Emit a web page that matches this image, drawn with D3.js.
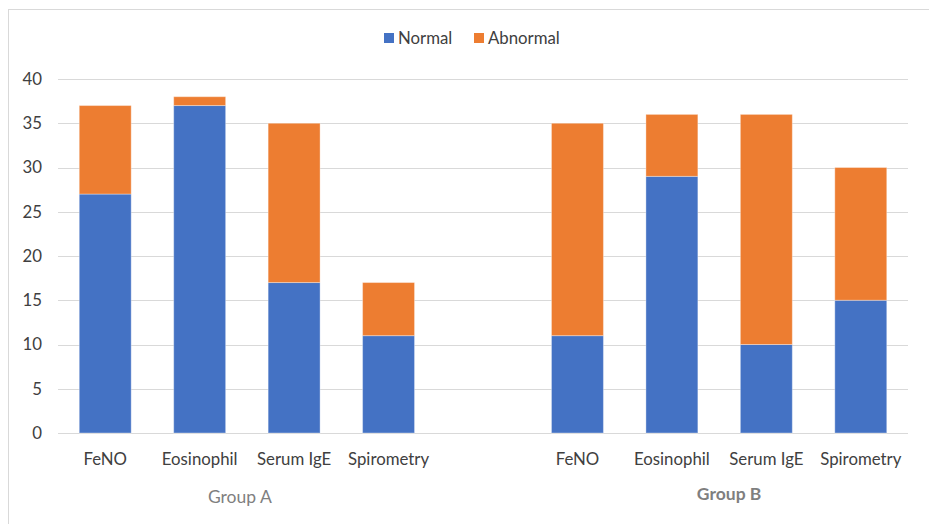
<!DOCTYPE html>
<html>
  <head>
    <meta charset="utf-8">
    <title>Normal vs Abnormal by Group</title>
    <script src="https://d3js.org/d3.v7.min.js"></script>
    <style>
      body { margin: 0; background: #fff; }
      .chart { font-family: Lato, "Open Sans", sans-serif; }
      .grid line { stroke: #d9d9d9; stroke-width: 1; shape-rendering: crispEdges; }
      .tick-label { fill: #404040; font-size: 16.8px; }
      .group-label { fill: #7f7f7f; font-size: 17.5px; }
    </style>
  </head>
  <body>
    <svg class="chart" width="929" height="524"></svg>
    <script>
      // Chart data
      const groups = ["Group A", "Group B"];
      const tests = ["FeNO", "Eosinophil", "Serum IgE", "Spirometry"];
      const normalA = [27, 37, 17, 11];
      const abnormalA = [10, 1, 18, 6];
      const normalB = [11, 29, 10, 15];
      const abnormalB = [24, 7, 26, 15];
      const seriesNames = ["Normal", "Abnormal"];
      const colors = ["#4472C4", "#ED7D31"];
      const yTicks = [0, 5, 10, 15, 20, 25, 30, 35, 40];

      // Build rows: 4 categories per group with an empty slot between groups
      const rows = [];
      tests.forEach((t, i) => rows.push({ key: "A" + i, group: groups[0], test: t, Normal: normalA[i], Abnormal: abnormalA[i] }));
      rows.push({ key: "gap", group: null, test: "", Normal: 0, Abnormal: 0 });
      tests.forEach((t, i) => rows.push({ key: "B" + i, group: groups[1], test: t, Normal: normalB[i], Abnormal: abnormalB[i] }));

      const svg = d3.select(".chart");
      const W = 929, H = 524;

      // outer frame (left and top only, as in the picture)
      svg.append("line").attr("x1", 8.5).attr("x2", 8.5).attr("y1", 9).attr("y2", H).attr("stroke", "#d9d9d9");
      svg.append("line").attr("x1", 8).attr("x2", W).attr("y1", 9.5).attr("y2", 9.5).attr("stroke", "#d9d9d9");

      const plot = { left: 58, right: 908, top: 79, bottom: 433 };

      const x = d3.scaleBand()
        .domain(rows.map(d => d.key))
        .range([plot.left, plot.right])
        .paddingInner(0.45)
        .paddingOuter(0.225);

      const y = d3.scaleLinear()
        .domain([0, 40])
        .range([plot.bottom, plot.top]);

      // gridlines
      svg.append("g").attr("class", "grid")
        .selectAll("line")
        .data(yTicks)
        .enter().append("line")
        .attr("x1", plot.left).attr("x2", plot.right)
        .attr("y1", d => Math.round(y(d)) + 0.5).attr("y2", d => Math.round(y(d)) + 0.5);

      // y labels
      svg.append("g")
        .selectAll("text")
        .data(yTicks)
        .enter().append("text")
        .attr("class", "tick-label")
        .attr("x", 42).attr("y", d => y(d))
        .attr("dy", "0.35em")
        .attr("text-anchor", "end")
        .text(d => d);

      // stacked bars
      const stack = d3.stack().keys(seriesNames);
      const layers = stack(rows.filter(d => d.group));
      svg.append("g")
        .selectAll("g")
        .data(layers)
        .enter().append("g")
        .attr("fill", (d, i) => colors[i])
        .selectAll("rect")
        .data(d => d)
        .enter().append("rect")
        .attr("x", d => x(d.data.key))
        .attr("width", x.bandwidth())
        .attr("y", d => y(d[1]))
        .attr("height", d => y(d[0]) - y(d[1]))
        .attr("stroke", "rgba(255,255,255,0.35)")
        .attr("stroke-width", 1);

      // category labels
      svg.append("g")
        .selectAll("text")
        .data(rows.filter(d => d.group))
        .enter().append("text")
        .attr("class", "tick-label")
        .attr("x", d => x(d.key) + x.bandwidth() / 2)
        .attr("y", 465)
        .attr("text-anchor", "middle")
        .text(d => d.test);

      // group labels (slightly off-centre, as in the original)
      const groupPos = [
        { name: groups[0], cx: (x("A1") + x("A2") + x.bandwidth()) / 2 - 7, y: 503, weight: "normal" },
        { name: groups[1], cx: (x("B1") + x("B2") + x.bandwidth()) / 2 + 10, y: 500, weight: "bold" }
      ];
      svg.append("g")
        .selectAll("text")
        .data(groupPos)
        .enter().append("text")
        .attr("class", "group-label")
        .attr("x", d => d.cx)
        .attr("y", d => d.y)
        .attr("text-anchor", "middle")
        .attr("font-weight", d => d.weight)
        .text(d => d.name);

      // legend
      const legend = svg.append("g").attr("transform", "translate(384,38)");
      const items = legend.selectAll("g")
        .data(seriesNames)
        .enter().append("g")
        .attr("transform", (d, i) => "translate(" + (i * 90) + ",0)");
      items.append("rect")
        .attr("x", 0).attr("y", -5).attr("width", 10).attr("height", 10)
        .attr("fill", (d, i) => colors[i]);
      items.append("text")
        .attr("class", "tick-label")
        .attr("x", 14).attr("y", 0).attr("dy", "0.35em")
        .text(d => d);
    </script>
  </body>
</html>
